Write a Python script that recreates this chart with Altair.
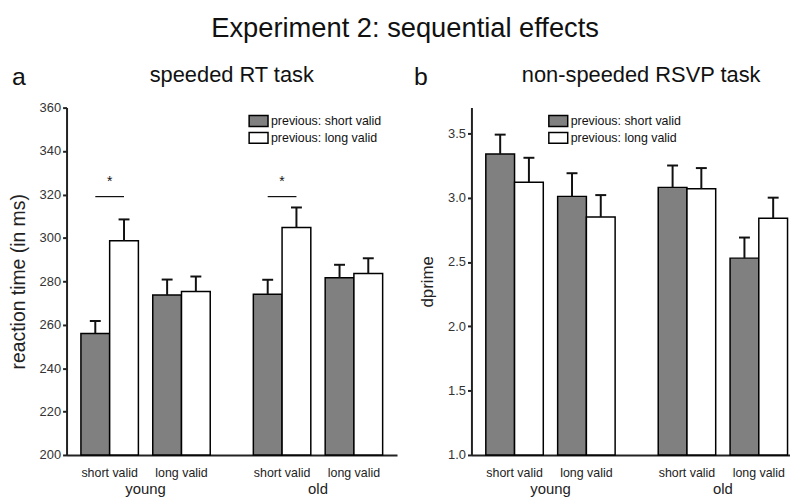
import altair as alt
import pandas as pd

FONT = "Liberation Sans"

groups = ["young", "old"]
conditions = ["short valid", "long valid"]
previous = ["previous: short valid", "previous: long valid"]
bar_colors = ["#808080", "#ffffff"]

# order: young/short(prev short, prev long), young/long, old/short, old/long
rt_mean = [256.0, 298.7, 273.7, 275.3, 274.0, 304.8, 281.6, 283.6]
rt_err = [5.7, 9.8, 7.1, 6.9, 6.7, 9.2, 6.0, 7.0]
dp_mean = [3.34, 3.12, 3.01, 2.85, 3.08, 3.07, 2.53, 2.84]
dp_err = [0.15, 0.19, 0.18, 0.17, 0.17, 0.16, 0.16, 0.16]

# significance brackets (RT task, short valid condition)
sig_groups = ["young", "old"]
sig_condition = "short valid"
sig_level = [319.0, 319.0]
sig_label = ["*", "*"]

rt_ticks = [200, 220, 240, 260, 280, 300, 320, 340, 360]
dp_ticks = [1, 1.5, 2, 2.5, 3, 3.5]

panel_letters = ["a", "b"]
panel_titles = ["speeded RT task", "non-speeded RSVP task"]
y_titles = ["reaction time (in ms)", "dprime"]

# ---- layout on a continuous x axis (bar width = 1 unit) ----
def slot(gi, ci, si):
    return 0.5 + gi * 6 + ci * 2.5 + si

rows = []
k = 0
for gi, g in enumerate(groups):
    for ci, c in enumerate(conditions):
        for si, p in enumerate(previous):
            x0 = slot(gi, ci, si)
            rows.append(dict(group=g, condition=c, previous=p,
                             rt=rt_mean[k], rt_top=rt_mean[k] + rt_err[k],
                             dp=dp_mean[k], dp_top=dp_mean[k] + dp_err[k],
                             x0=x0, x1=x0 + 1, xc=x0 + 0.5,
                             cl=x0 + 0.5 - 0.19, cr=x0 + 0.5 + 0.19))
            k += 1
df = pd.DataFrame(rows)

cond_df = pd.DataFrame([dict(label=c, xc=slot(gi, ci, 1)) for gi, g in enumerate(groups)
                        for ci, c in enumerate(conditions)])
group_df = pd.DataFrame([dict(label=g, xc=(slot(gi, 0, 0) + slot(gi, 1, 1) + 1) / 2)
                         for gi, g in enumerate(groups)])
sig_rows = []
for g, lvl, lab in zip(sig_groups, sig_level, sig_label):
    gi = groups.index(g)
    ci = conditions.index(sig_condition)
    sig_rows.append(dict(a=slot(gi, ci, 0) + 0.5, b=slot(gi, ci, 1) + 0.5,
                         m=slot(gi, ci, 1), level=lvl, label=lab))
sig_df = pd.DataFrame(sig_rows)

W, H = 333, 350
XDOM = [0, 11.5]


def panel(idx, value, top, ydom, ticks, legend_x, title_fs, letter_x, title_x, sig=None):
    xs = alt.Scale(domain=XDOM, nice=False, zero=False)
    ys = alt.Scale(domain=ydom, nice=False, zero=False)
    ytitle = y_titles[idx]
    base = alt.Chart(df)
    bars = base.mark_bar(stroke="black", strokeWidth=1.5).encode(
        x=alt.X("x0:Q", scale=xs, title=None,
                axis=alt.Axis(values=[0], labels=False, ticks=False, grid=False)),
        x2="x1:Q",
        y=alt.Y(f"{value}:Q", scale=ys, title=ytitle,
                axis=alt.Axis(values=ticks, grid=False, titleFontSize=title_fs)),
        y2=alt.datum(ydom[0]),
        color=alt.Color("previous:N",
                        scale=alt.Scale(domain=previous, range=bar_colors),
                        legend=alt.Legend(orient="none", legendX=legend_x, legendY=7,
                                          title=None,
                                          symbolType="M-1.73,-1H1.73V1H-1.73Z",
                                          symbolSize=121, symbolStrokeColor="black",
                                          symbolStrokeWidth=1.5, symbolOpacity=1,
                                          labelFont=FONT, labelFontSize=12.5,
                                          labelColor="#111", labelOffset=6,
                                          rowPadding=0, padding=0)),
    )
    err = base.mark_rule(color="#111", strokeWidth=2).encode(
        x=alt.X("xc:Q", title=None), y=alt.Y(f"{value}:Q", title=ytitle), y2=f"{top}:Q")
    caps = base.mark_rule(color="#111", strokeWidth=2).encode(
        x=alt.X("cl:Q", title=None), x2="cr:Q", y=alt.Y(f"{top}:Q", title=ytitle))
    cond_txt = alt.Chart(cond_df).mark_text(font=FONT, fontSize=12.5, color="#222",
                                            baseline="alphabetic").encode(
        x=alt.X("xc:Q", title=None), y=alt.value(H + 22.5), text="label:N")
    grp_txt = alt.Chart(group_df).mark_text(font=FONT, fontSize=15, color="#222",
                                            baseline="alphabetic").encode(
        x=alt.X("xc:Q", title=None), y=alt.value(H + 39), text="label:N")
    lab_df = pd.DataFrame(dict(letter=[panel_letters[idx]], title=[panel_titles[idx]]))
    letter = alt.Chart(lab_df).mark_text(font=FONT, fontSize=25, color="#111",
                                         align="left", baseline="alphabetic").encode(
        x=alt.value(letter_x), y=alt.value(-23), text="letter:N")
    title = alt.Chart(lab_df).mark_text(font=FONT, fontSize=22, color="#111",
                                        align="center", baseline="alphabetic").encode(
        x=alt.value(title_x), y=alt.value(-26), text="title:N")
    layers = [bars, err, caps, cond_txt, grp_txt, letter, title]
    if sig is not None:
        sig_line = alt.Chart(sig).mark_rule(color="#111", strokeWidth=1.2).encode(
            x=alt.X("a:Q", title=None), x2="b:Q", y=alt.Y("level:Q", title=ytitle))
        star = alt.Chart(sig).mark_text(font=FONT, fontSize=14, color="#111",
                                        baseline="alphabetic", dy=-11).encode(
            x=alt.X("m:Q", title=None), y=alt.Y("level:Q", title=ytitle), text="label:N")
        layers += [sig_line, star]
    return alt.layer(*layers).properties(width=W, height=H)


left = panel(0, "rt", "rt_top", [200, 360], rt_ticks, 187, 19.5, -55, 166.5, sig=sig_df)
right = panel(1, "dp", "dp_top", [1, 3.7], dp_ticks, 81, 17, -58, 171)

chart = alt.hconcat(left, right, spacing=17).properties(
    title=alt.TitleParams("Experiment 2: sequential effects", font=FONT, fontSize=27.5,
                          fontWeight="normal", color="#111", anchor="middle", offset=22),
    padding={"left": 0, "top": 4.5, "right": -12, "bottom": -0.5},
).resolve_scale(color="independent").resolve_legend(color="independent").configure_view(
    stroke=None
).configure_axis(
    labelFont=FONT, labelFontSize=13, labelColor="#333",
    titleFont=FONT, titleFontSize=18, titleFontWeight="normal", titleColor="#222",
    domainColor="#222", domainWidth=2, tickColor="#222", tickWidth=2, tickSize=4,
    labelPadding=2, titlePadding=11,
)

chart.save("out.html", embed_options={"renderer": "svg", "actions": False})
